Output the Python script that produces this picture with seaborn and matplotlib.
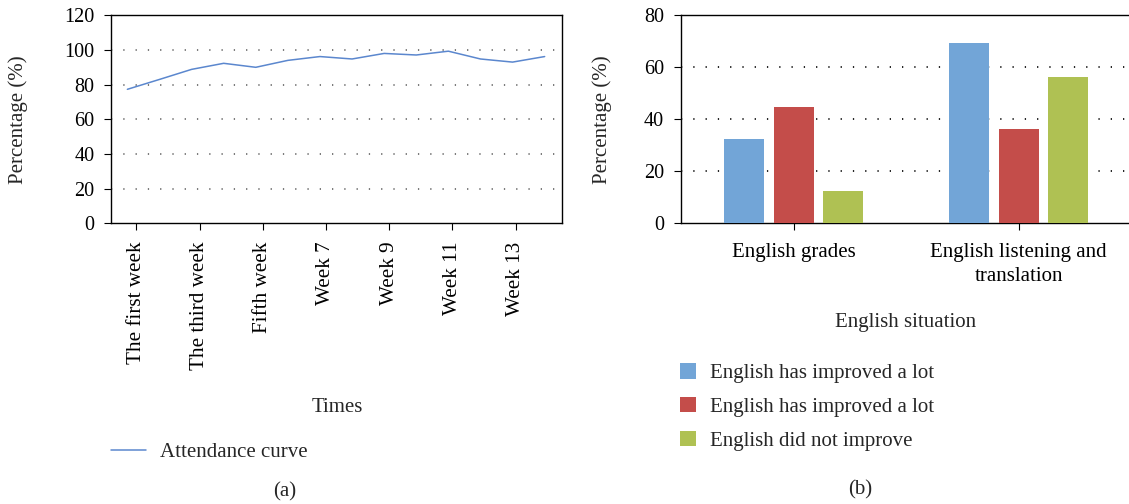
import numpy as np
import pandas as pd
import matplotlib
matplotlib.use("Agg")
import matplotlib.pyplot as plt
import seaborn as sns

# ---------------- data: panel (a) ----------------
week_numbers = list(range(1, 15))
attendance = [77.3, 83.0, 88.8, 92.3, 90.0, 94.0, 96.2, 94.8, 98.0, 97.1, 99.3, 94.8, 93.0, 96.2]
week_tick_labels = ["The first week", "The third week", "Fifth week", "Week 7",
                    "Week 9", "Week 11", "Week 13"]
line_label = "Attendance curve"

# ---------------- data: panel (b) ----------------
situations = ["English grades", "English listening and\ntranslation"]
series_keys = ["s1", "s2", "s3"]
series_labels = ["English has improved a lot", "English has improved a lot",
                 "English did not improve"]
improved_lot_a = [32.4, 69.4]
improved_lot_b = [44.7, 36.3]
not_improved = [12.4, 56.3]

# ---------------- style ----------------
sns.set_theme(style="ticks")
plt.rcParams["font.family"] = ["Liberation Serif", "DejaVu Serif"]
plt.rcParams["axes.linewidth"] = 1.0
plt.rcParams["axes.edgecolor"] = "black"

line_color = "#5B87CE"
bar_colors = {"s1": "#72A5D7", "s2": "#C44D4A", "s3": "#AFC153"}

W, H = 1129, 504
fig = plt.figure(figsize=(W / 100, H / 100), dpi=100)

def fx(px):
    return px / W

def fy(py):
    return 1 - py / H

ax_top, ax_bot = 15.3, 223.3
axA = fig.add_axes([fx(111), fy(ax_bot), fx(562) - fx(111), fy(ax_top) - fy(ax_bot)])
axB = fig.add_axes([fx(680.7), fy(ax_bot), fx(1131.2) - fx(680.7), fy(ax_top) - fy(ax_bot)])

tick_fs = 14.5
label_fs = 15

# ---------------- panel (a) ----------------
dfA = pd.DataFrame({"week": week_numbers, "attendance": attendance})
sns.lineplot(data=dfA, x="week", y="attendance", ax=axA, color=line_color,
             linewidth=1.1, label=line_label, zorder=3)
axA.set_ylim(0, 120)
axA.set_yticks(np.arange(0, 121, 20))
axA.set_xlim(0.49, 14.54)
tick_pos = [1.28 + 1.969 * k for k in range(len(week_tick_labels))]
axA.set_xticks(tick_pos)
axA.set_xticklabels(week_tick_labels, rotation=90, va="top", ha="center")
for yv in range(20, 101, 20):
    axA.axhline(yv, color="#6E6E6E", linewidth=1.3, linestyle=(0, (0.7, 6.1)), zorder=1)
axA.set_xlabel("")
axA.set_ylabel("Percentage (%)", fontsize=label_fs, va="center")
axA.yaxis.set_label_coords((18 - 111) / 451, 0.5)
axA.tick_params(axis="both", labelsize=tick_fs, length=5, width=0.8, colors="black",
                direction="out")
axA.tick_params(axis="y", pad=7)
axA.tick_params(axis="x", pad=8, labelsize=15.2)
for s in axA.spines.values():
    s.set_color("black")
    s.set_linewidth(1.0)
fig.text(fx(337), fy(408), "Times", fontsize=label_fs, ha="center", va="center")
hA, lA = axA.get_legend_handles_labels()
axA.legend(hA, lA, loc="center left", bbox_to_anchor=(fx(111), fy(452)),
           bbox_transform=fig.transFigure, frameon=False, fontsize=label_fs,
           handlelength=1.68, handletextpad=0.67, borderpad=0, borderaxespad=0)
fig.text(fx(284.5), fy(492), "(a)", fontsize=label_fs, ha="center", va="center")

# ---------------- panel (b) ----------------
dfB = pd.DataFrame({
    "situation": situations * 3,
    "series": [series_keys[0]] * 2 + [series_keys[1]] * 2 + [series_keys[2]] * 2,
    "value": improved_lot_a + improved_lot_b + not_improved,
})
sns.barplot(data=dfB, x="situation", y="value", hue="series", hue_order=series_keys,
            order=situations, palette=bar_colors, width=0.66, gap=0.19, saturation=1,
            ax=axB, zorder=3, errorbar=None, linewidth=0, edgecolor="none")
axB.set_ylim(0, 80)
axB.set_yticks(np.arange(0, 81, 20))
axB.set_xlim(-0.502, 1.5)
for yv in range(20, 61, 20):
    axB.axhline(yv, color="#111111", linewidth=1.3, linestyle=(0, (0.7, 6.1)), zorder=1)
axB.set_xlabel("")
axB.set_ylabel("Percentage (%)", fontsize=label_fs, va="center")
axB.yaxis.set_label_coords((601.7 - 680.7) / 451, 0.5)
axB.tick_params(axis="both", labelsize=tick_fs, length=5, width=0.8, colors="black",
                direction="out")
axB.tick_params(axis="y", pad=7)
axB.tick_params(axis="x", pad=9, labelsize=label_fs)
for lab in axB.get_xticklabels():
    lab.set_linespacing(1.38)
for s in axB.spines.values():
    s.set_color("black")
    s.set_linewidth(1.0)
fig.text(fx(906), fy(323), "English situation", fontsize=label_fs, ha="center", va="center")
hB, _ = axB.get_legend_handles_labels()
axB.legend(hB, series_labels, loc="upper left", bbox_to_anchor=(fx(680), fy(363)),
           bbox_transform=fig.transFigure, frameon=False, fontsize=label_fs,
           handlelength=0.77, handleheight=0.77, handletextpad=0.67,
           labelspacing=0.66, borderpad=0, borderaxespad=0)
fig.text(fx(860), fy(490), "(b)", fontsize=label_fs, ha="center", va="center")

fig.savefig("out.png", dpi=100)
